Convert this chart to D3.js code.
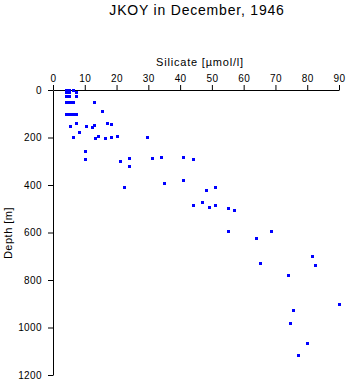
<!DOCTYPE html>
<html>
<head>
<meta charset="utf-8">
<script src="https://cdn.jsdelivr.net/npm/d3@7/dist/d3.min.js"></script>
<style>
  html, body { margin: 0; padding: 0; background: #fff; }
  svg { display: block; }
  text { font-family: "Liberation Sans", Arial, sans-serif; fill: #000; }
</style>
</head>
<body>
<svg id="chart" width="348" height="384"></svg>
<script>
const titleText = "JKOY in December, 1946";
const xLabel = "Silicate [\u00b5mol/l]";
const yLabel = "Depth [m]";
const xTicks = [0, 10, 20, 30, 40, 50, 60, 70, 80, 90];
const yTicks = [0, 200, 400, 600, 800, 1000, 1200];

const silicate = [
  4.1, 5.0, 6.2,
  4.1, 5.0, 7.2,
  4.1, 5.0, 7.2,
  4.2, 4.8, 5.5, 6.3, 13.0,
  15.3,
  4.2, 5.0, 5.8, 6.5, 7.3,
  7.3, 17.0, 18.1, 13.0, 5.2, 10.3, 12.2,
  8.3, 14.3, 20.1, 18.3, 6.2, 29.5, 13.1, 16.4,
  10.2, 10.2, 31.0, 34.0, 41.0, 24.0, 44.0, 21.2, 24.0,
  41.0, 35.0, 22.3, 51.0, 48.0,
  47.0, 51.0, 44.0, 49.0, 55.0, 57.0,
  55.0, 68.7, 64.0, 81.5, 65.0, 82.3, 74.0,
  90.0, 75.5, 74.7, 79.8, 77.0
];
const depth = [
  0, 0, 0,
  10, 10, 10,
  25, 25, 25,
  50, 50, 50, 50, 50,
  90,
  100, 100, 100, 100, 100,
  140, 140, 145, 148, 150, 150, 155,
  175, 192, 195, 196, 197, 198, 200, 200,
  255, 290, 285, 282, 282, 288, 292, 300, 322,
  377, 390, 410, 410, 420,
  473, 483, 485, 494, 498, 505,
  592, 592, 625, 697, 728, 735, 777,
  900, 925, 980, 1064, 1115
];

const svg = d3.select("#chart");
const x = d3.scaleLinear().domain([0, 90]).range([53, 339]);
const y = d3.scaleLinear().domain([0, 1200]).range([90, 375]);

svg.append("text")
  .attr("x", 197).attr("y", 15)
  .attr("text-anchor", "middle")
  .style("font-size", "14px")
  .style("letter-spacing", "0.8px")
  .text(titleText);

svg.append("text")
  .attr("x", 200).attr("y", 66)
  .attr("text-anchor", "middle")
  .style("font-size", "11px")
  .style("letter-spacing", "0.8px")
  .text(xLabel);

svg.append("text")
  .attr("transform", "translate(12,233) rotate(-90)")
  .attr("text-anchor", "middle")
  .style("font-size", "11px")
  .style("letter-spacing", "0.5px")
  .text(yLabel);

const gx = svg.append("g")
  .attr("transform", "translate(0,90)")
  .call(d3.axisTop(x).tickValues(xTicks).tickFormat(d3.format("d")).tickSize(5).tickSizeOuter(0).tickPadding(3));
const gy = svg.append("g")
  .attr("transform", "translate(53,0)")
  .call(d3.axisLeft(y).tickValues(yTicks).tickFormat(d3.format("d")).tickSize(5).tickSizeOuter(0).tickPadding(6));

[gx, gy].forEach(g => {
  g.selectAll("text").style("font-size", "10px").style("font-family", "'Liberation Sans', Arial, sans-serif")
    .style("letter-spacing", "0.4px");
  g.selectAll("path, line").attr("stroke", "#000");
});

const pts = silicate.map((s, i) => ({ s, d: depth[i] }));
svg.append("g").selectAll("rect")
  .data(pts)
  .join("rect")
  .attr("x", p => Math.round(x(p.s)) - 1)
  .attr("y", p => Math.round(y(p.d)) - 1)
  .attr("width", 3)
  .attr("height", 3)
  .attr("fill", "#0000ff");
</script>
</body>
</html>
